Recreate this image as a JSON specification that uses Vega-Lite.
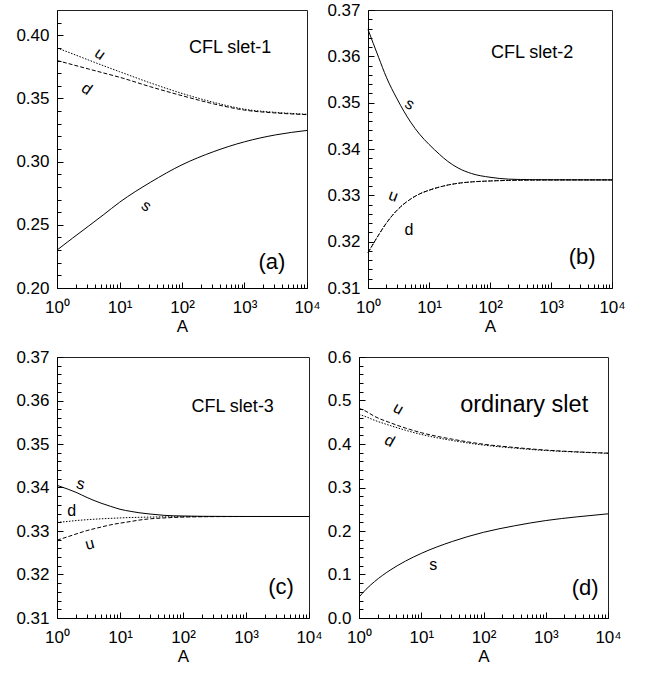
{
"$schema":"https://vega.github.io/schema/vega-lite/v6.json",
"background":"white",
"padding":{"left":15,"top":0,"right":0,"bottom":0},
"config":{"view":{"stroke":"#222","strokeWidth":1},"axis":{"grid":false,"labelFont":"Liberation Sans","labelFontSize":17,"labelColor":"black","tickColor":"black","domainColor":"black","titleFont":"Liberation Sans","titleFontSize":17,"titleFontWeight":"normal","titleColor":"black"},"text":{"font":"Liberation Sans","color":"black"}},
"datasets":{
"curves":[
{"p":"a","q":"s","A":1,"v":0.23},{"p":"a","q":"s","A":1.778,"v":0.2395},{"p":"a","q":"s","A":3.162,"v":0.2488},{"p":"a","q":"s","A":5.623,"v":0.2582},{"p":"a","q":"s","A":10,"v":0.2678},{"p":"a","q":"s","A":31.62,"v":0.2838},{"p":"a","q":"s","A":100,"v":0.2975},{"p":"a","q":"s","A":316.2,"v":0.3078},{"p":"a","q":"s","A":1000,"v":0.3157},{"p":"a","q":"s","A":3162,"v":0.3212},{"p":"a","q":"s","A":10000,"v":0.3247},
{"p":"a","q":"u","A":1,"v":0.39},{"p":"a","q":"u","A":1.778,"v":0.3853},{"p":"a","q":"u","A":3.162,"v":0.3805},{"p":"a","q":"u","A":5.623,"v":0.3758},{"p":"a","q":"u","A":10,"v":0.3712},{"p":"a","q":"u","A":31.62,"v":0.3622},{"p":"a","q":"u","A":100,"v":0.354},{"p":"a","q":"u","A":316.2,"v":0.347},{"p":"a","q":"u","A":1000,"v":0.3415},{"p":"a","q":"u","A":3162,"v":0.339},{"p":"a","q":"u","A":10000,"v":0.3375},
{"p":"a","q":"d","A":1,"v":0.38},{"p":"a","q":"d","A":1.778,"v":0.3767},{"p":"a","q":"d","A":3.162,"v":0.3734},{"p":"a","q":"d","A":5.623,"v":0.3701},{"p":"a","q":"d","A":10,"v":0.3668},{"p":"a","q":"d","A":31.62,"v":0.3592},{"p":"a","q":"d","A":100,"v":0.3522},{"p":"a","q":"d","A":316.2,"v":0.3458},{"p":"a","q":"d","A":1000,"v":0.3408},{"p":"a","q":"d","A":3162,"v":0.3385},{"p":"a","q":"d","A":10000,"v":0.3372},
{"p":"b","q":"s","A":1,"v":0.3658},{"p":"b","q":"s","A":1.5,"v":0.3597},{"p":"b","q":"s","A":2,"v":0.3555},{"p":"b","q":"s","A":3,"v":0.3508},{"p":"b","q":"s","A":5,"v":0.3458},{"p":"b","q":"s","A":7,"v":0.3432},{"p":"b","q":"s","A":10,"v":0.341},{"p":"b","q":"s","A":15,"v":0.3388},{"p":"b","q":"s","A":20,"v":0.3374},{"p":"b","q":"s","A":30,"v":0.3359},{"p":"b","q":"s","A":50,"v":0.3347},{"p":"b","q":"s","A":100,"v":0.3339},{"p":"b","q":"s","A":200,"v":0.3335},{"p":"b","q":"s","A":500,"v":0.33338},{"p":"b","q":"s","A":1000,"v":0.33335},{"p":"b","q":"s","A":10000,"v":0.33333},
{"p":"b","q":"u","A":1,"v":0.3176},{"p":"b","q":"u","A":1.5,"v":0.3215},{"p":"b","q":"u","A":2,"v":0.324},{"p":"b","q":"u","A":3,"v":0.3268},{"p":"b","q":"u","A":5,"v":0.3292},{"p":"b","q":"u","A":7,"v":0.3303},{"p":"b","q":"u","A":10,"v":0.3311},{"p":"b","q":"u","A":15,"v":0.3318},{"p":"b","q":"u","A":20,"v":0.3322},{"p":"b","q":"u","A":30,"v":0.3326},{"p":"b","q":"u","A":50,"v":0.3329},{"p":"b","q":"u","A":100,"v":0.3331},{"p":"b","q":"u","A":200,"v":0.33322},{"p":"b","q":"u","A":500,"v":0.3333},{"p":"b","q":"u","A":1000,"v":0.33332},{"p":"b","q":"u","A":10000,"v":0.33333},
{"p":"b","q":"d","A":1,"v":0.3176},{"p":"b","q":"d","A":1.5,"v":0.3215},{"p":"b","q":"d","A":2,"v":0.324},{"p":"b","q":"d","A":3,"v":0.3268},{"p":"b","q":"d","A":5,"v":0.3292},{"p":"b","q":"d","A":7,"v":0.3303},{"p":"b","q":"d","A":10,"v":0.3311},{"p":"b","q":"d","A":15,"v":0.3318},{"p":"b","q":"d","A":20,"v":0.3322},{"p":"b","q":"d","A":30,"v":0.3326},{"p":"b","q":"d","A":50,"v":0.3329},{"p":"b","q":"d","A":100,"v":0.3331},{"p":"b","q":"d","A":200,"v":0.33322},{"p":"b","q":"d","A":500,"v":0.3333},{"p":"b","q":"d","A":1000,"v":0.33332},{"p":"b","q":"d","A":10000,"v":0.33333},
{"p":"c","q":"s","A":1,"v":0.3405},{"p":"c","q":"s","A":1.5,"v":0.3396},{"p":"c","q":"s","A":2,"v":0.3389},{"p":"c","q":"s","A":3,"v":0.3377},{"p":"c","q":"s","A":5,"v":0.3364},{"p":"c","q":"s","A":7,"v":0.3357},{"p":"c","q":"s","A":10,"v":0.335},{"p":"c","q":"s","A":15,"v":0.3345},{"p":"c","q":"s","A":20,"v":0.3342},{"p":"c","q":"s","A":30,"v":0.3339},{"p":"c","q":"s","A":50,"v":0.3336},{"p":"c","q":"s","A":100,"v":0.33345},{"p":"c","q":"s","A":200,"v":0.33338},{"p":"c","q":"s","A":500,"v":0.33335},{"p":"c","q":"s","A":1000,"v":0.33334},{"p":"c","q":"s","A":10000,"v":0.33333},
{"p":"c","q":"d","A":1,"v":0.332},{"p":"c","q":"d","A":1.5,"v":0.3322},{"p":"c","q":"d","A":2,"v":0.3324},{"p":"c","q":"d","A":3,"v":0.3326},{"p":"c","q":"d","A":5,"v":0.3328},{"p":"c","q":"d","A":7,"v":0.3329},{"p":"c","q":"d","A":10,"v":0.333},{"p":"c","q":"d","A":15,"v":0.3331},{"p":"c","q":"d","A":20,"v":0.33315},{"p":"c","q":"d","A":30,"v":0.3332},{"p":"c","q":"d","A":50,"v":0.33325},{"p":"c","q":"d","A":100,"v":0.3333},{"p":"c","q":"d","A":200,"v":0.33332},{"p":"c","q":"d","A":500,"v":0.33333},{"p":"c","q":"d","A":1000,"v":0.33333},{"p":"c","q":"d","A":10000,"v":0.33333},
{"p":"c","q":"u","A":1,"v":0.3279},{"p":"c","q":"u","A":1.5,"v":0.3287},{"p":"c","q":"u","A":2,"v":0.3293},{"p":"c","q":"u","A":3,"v":0.3301},{"p":"c","q":"u","A":5,"v":0.3309},{"p":"c","q":"u","A":7,"v":0.3314},{"p":"c","q":"u","A":10,"v":0.3318},{"p":"c","q":"u","A":15,"v":0.3322},{"p":"c","q":"u","A":20,"v":0.3325},{"p":"c","q":"u","A":30,"v":0.3328},{"p":"c","q":"u","A":50,"v":0.333},{"p":"c","q":"u","A":100,"v":0.3332},{"p":"c","q":"u","A":200,"v":0.33328},{"p":"c","q":"u","A":500,"v":0.33332},{"p":"c","q":"u","A":1000,"v":0.33333},{"p":"c","q":"u","A":10000,"v":0.33333},
{"p":"d","q":"s","A":1,"v":0.048},{"p":"d","q":"s","A":1.3,"v":0.066},{"p":"d","q":"s","A":1.778,"v":0.0837},{"p":"d","q":"s","A":3.162,"v":0.11},{"p":"d","q":"s","A":5.623,"v":0.131},{"p":"d","q":"s","A":10,"v":0.1485},{"p":"d","q":"s","A":31.62,"v":0.176},{"p":"d","q":"s","A":100,"v":0.197},{"p":"d","q":"s","A":316.2,"v":0.212},{"p":"d","q":"s","A":1000,"v":0.224},{"p":"d","q":"s","A":3162,"v":0.2325},{"p":"d","q":"s","A":10000,"v":0.2395},
{"p":"d","q":"u","A":1,"v":0.482},{"p":"d","q":"u","A":1.3,"v":0.475},{"p":"d","q":"u","A":1.778,"v":0.4635},{"p":"d","q":"u","A":3.162,"v":0.449},{"p":"d","q":"u","A":5.623,"v":0.4365},{"p":"d","q":"u","A":10,"v":0.426},{"p":"d","q":"u","A":31.62,"v":0.411},{"p":"d","q":"u","A":100,"v":0.3995},{"p":"d","q":"u","A":316.2,"v":0.392},{"p":"d","q":"u","A":1000,"v":0.386},{"p":"d","q":"u","A":3162,"v":0.382},{"p":"d","q":"u","A":10000,"v":0.379},
{"p":"d","q":"d","A":1,"v":0.468},{"p":"d","q":"d","A":1.3,"v":0.4625},{"p":"d","q":"d","A":1.778,"v":0.4545},{"p":"d","q":"d","A":3.162,"v":0.4425},{"p":"d","q":"d","A":5.623,"v":0.4315},{"p":"d","q":"d","A":10,"v":0.422},{"p":"d","q":"d","A":31.62,"v":0.408},{"p":"d","q":"d","A":100,"v":0.3975},{"p":"d","q":"d","A":316.2,"v":0.3905},{"p":"d","q":"d","A":1000,"v":0.385},{"p":"d","q":"d","A":3162,"v":0.3815},{"p":"d","q":"d","A":10000,"v":0.3785}
],
"labels":[
{"p":"a","t":"CFL slet-1","A":590,"v":0.3896},{"p":"a","t":"(a)","A":2750,"v":0.2208},{"p":"a","t":"u","A":4.9,"v":0.3852},{"p":"a","t":"d","A":3.0,"v":0.3576},{"p":"a","t":"s","A":27,"v":0.265},
{"p":"b","t":"CFL slet-2","A":490,"v":0.3607},{"p":"b","t":"(b)","A":3240,"v":0.3166},{"p":"b","t":"s","A":4.85,"v":0.3497},{"p":"b","t":"u","A":2.6,"v":0.3299},{"p":"b","t":"d","A":4.7,"v":0.3226},
{"p":"c","t":"CFL slet-3","A":615,"v":0.3586},{"p":"c","t":"(c)","A":3600,"v":0.3172},{"p":"c","t":"s","A":2.37,"v":0.3408},{"p":"c","t":"d","A":1.71,"v":0.3346},{"p":"c","t":"u","A":3.3,"v":0.327},
{"p":"d","t":"ordinary slet","A":450,"v":0.4905},{"p":"d","t":"(d)","A":4300,"v":0.07},{"p":"d","t":"u","A":4.3,"v":0.481},{"p":"d","t":"d","A":3.1,"v":0.407},{"p":"d","t":"s","A":15.6,"v":0.1225}
]},
"resolve":{"scale":{"x":"independent","y":"independent"}},
"spacing":12,
"vconcat":[
{"hconcat":[
{"width":250,"height":278,"resolve":{"axis":{"x":"independent","y":"independent"}},
"layer":[
{"data":{"name":"curves"},"transform":[{"filter":"datum.p == 'a' && datum.q == 's'"}],"mark":{"type":"line","interpolate":"monotone","color":"black","strokeWidth":1},
"encoding":{"x":{"field":"A","type":"quantitative","scale":{"type":"log","domain":[1,10000]},"axis":{"orient":"bottom","values":[1,10,100,1000,10000],"labelExpr":"datum.value < 5 ? '10⁰' : datum.value < 50 ? '10¹' : datum.value < 500 ? '10²' : datum.value < 5000 ? '10³' : '10⁴'","ticks":false,"labelPadding":11,"labelFlush":false,"labelOverlap":false,"title":"A","titlePadding":3}},
"y":{"field":"v","type":"quantitative","scale":{"domain":[0.2,0.42],"nice":false,"zero":false},"axis":{"orient":"left","values":[0.2,0.25,0.3,0.35,0.4],"format":".2f","ticks":false,"labelPadding":8,"title":null}}}},
{"data":{"name":"curves"},"transform":[{"filter":"datum.p == 'a' && datum.q == 'u'"}],"mark":{"type":"line","interpolate":"monotone","color":"black","strokeWidth":1,"strokeDash":[1.5,1.5]},
"encoding":{"x":{"field":"A","type":"quantitative","scale":{"type":"log","domain":[1,10000]},"axis":{"orient":"bottom","values":[1,10,100,1000,10000],"labels":false,"domain":false,"ticks":true,"tickSize":6,"offset":-6,"title":null}},
"y":{"field":"v","type":"quantitative","scale":{"domain":[0.2,0.42],"nice":false,"zero":false},"axis":{"orient":"left","values":[0.2,0.25,0.3,0.35,0.4],"labels":false,"domain":false,"ticks":true,"tickSize":6,"offset":-6,"title":null}}}},
{"data":{"name":"curves"},"transform":[{"filter":"datum.p == 'a' && datum.q == 'd'"}],"mark":{"type":"line","interpolate":"monotone","color":"black","strokeWidth":1,"strokeDash":[4,2]},
"encoding":{"x":{"field":"A","type":"quantitative","scale":{"type":"log","domain":[1,10000]},"axis":{"orient":"bottom","values":[2,3,4,5,6,7,8,9,20,30,40,50,60,70,80,90,200,300,400,500,600,700,800,900,2000,3000,4000,5000,6000,7000,8000,9000],"labels":false,"domain":false,"ticks":true,"tickSize":4,"offset":-4,"title":null}},
"y":{"field":"v","type":"quantitative","scale":{"domain":[0.2,0.42],"nice":false,"zero":false},"axis":{"orient":"left","values":[0.21,0.22,0.23,0.24,0.26,0.27,0.28,0.29,0.31,0.32,0.33,0.34,0.36,0.37,0.38,0.39,0.41],"labels":false,"domain":false,"ticks":true,"tickSize":4,"offset":-4,"title":null}}}},
{"data":{"name":"labels"},"transform":[{"filter":"datum.p == 'a' && datum.t == 'CFL slet-1'"}],"mark":{"type":"text","fontSize":18},
"encoding":{"x":{"field":"A","type":"quantitative","scale":{"type":"log","domain":[1,10000]},"axis":null},"y":{"field":"v","type":"quantitative","scale":{"domain":[0.2,0.42],"nice":false,"zero":false},"axis":null},"text":{"field":"t"}}},
{"data":{"name":"labels"},"transform":[{"filter":"datum.p == 'a' && datum.t == '(a)'"}],"mark":{"type":"text","fontSize":22},
"encoding":{"x":{"field":"A","type":"quantitative","scale":{"type":"log","domain":[1,10000]},"axis":null},"y":{"field":"v","type":"quantitative","scale":{"domain":[0.2,0.42],"nice":false,"zero":false},"axis":null},"text":{"field":"t"}}},
{"data":{"name":"labels"},"transform":[{"filter":"datum.p == 'a' && length(datum.t) == 1"}],"mark":{"type":"text","fontSize":16,"angle":35},
"encoding":{"x":{"field":"A","type":"quantitative","scale":{"type":"log","domain":[1,10000]},"axis":null},"y":{"field":"v","type":"quantitative","scale":{"domain":[0.2,0.42],"nice":false,"zero":false},"axis":null},"text":{"field":"t"}}}
]},
{"width":244,"height":278,"resolve":{"axis":{"x":"independent","y":"independent"}},
"layer":[
{"data":{"name":"curves"},"transform":[{"filter":"datum.p == 'b' && datum.q == 's'"}],"mark":{"type":"line","interpolate":"monotone","color":"black","strokeWidth":1},
"encoding":{"x":{"field":"A","type":"quantitative","scale":{"type":"log","domain":[1,10000]},"axis":{"orient":"bottom","values":[1,10,100,1000,10000],"labelExpr":"datum.value < 5 ? '10⁰' : datum.value < 50 ? '10¹' : datum.value < 500 ? '10²' : datum.value < 5000 ? '10³' : '10⁴'","ticks":false,"labelPadding":11,"labelFlush":false,"labelOverlap":false,"title":"A","titlePadding":3}},
"y":{"field":"v","type":"quantitative","scale":{"domain":[0.31,0.37],"nice":false,"zero":false},"axis":{"orient":"left","values":[0.31,0.32,0.33,0.34,0.35,0.36,0.37],"format":".2f","ticks":false,"labelPadding":8,"title":null}}}},
{"data":{"name":"curves"},"transform":[{"filter":"datum.p == 'b' && datum.q == 'u'"}],"mark":{"type":"line","interpolate":"monotone","color":"black","strokeWidth":1,"strokeDash":[1.5,1.5]},
"encoding":{"x":{"field":"A","type":"quantitative","scale":{"type":"log","domain":[1,10000]},"axis":{"orient":"bottom","values":[1,10,100,1000,10000],"labels":false,"domain":false,"ticks":true,"tickSize":6,"offset":-6,"title":null}},
"y":{"field":"v","type":"quantitative","scale":{"domain":[0.31,0.37],"nice":false,"zero":false},"axis":{"orient":"left","values":[0.31,0.32,0.33,0.34,0.35,0.36,0.37],"labels":false,"domain":false,"ticks":true,"tickSize":6,"offset":-6,"title":null}}}},
{"data":{"name":"curves"},"transform":[{"filter":"datum.p == 'b' && datum.q == 'd'"}],"mark":{"type":"line","interpolate":"monotone","color":"black","strokeWidth":1,"strokeDash":[4,2]},
"encoding":{"x":{"field":"A","type":"quantitative","scale":{"type":"log","domain":[1,10000]},"axis":{"orient":"bottom","values":[2,3,4,5,6,7,8,9,20,30,40,50,60,70,80,90,200,300,400,500,600,700,800,900,2000,3000,4000,5000,6000,7000,8000,9000],"labels":false,"domain":false,"ticks":true,"tickSize":4,"offset":-4,"title":null}},
"y":{"field":"v","type":"quantitative","scale":{"domain":[0.31,0.37],"nice":false,"zero":false},"axis":{"orient":"left","values":[0.312,0.314,0.316,0.318,0.322,0.324,0.326,0.328,0.332,0.334,0.336,0.338,0.342,0.344,0.346,0.348,0.352,0.354,0.356,0.358,0.362,0.364,0.366,0.368],"labels":false,"domain":false,"ticks":true,"tickSize":4,"offset":-4,"title":null}}}},
{"data":{"name":"labels"},"transform":[{"filter":"datum.p == 'b' && datum.t == 'CFL slet-2'"}],"mark":{"type":"text","fontSize":18},
"encoding":{"x":{"field":"A","type":"quantitative","scale":{"type":"log","domain":[1,10000]},"axis":null},"y":{"field":"v","type":"quantitative","scale":{"domain":[0.31,0.37],"nice":false,"zero":false},"axis":null},"text":{"field":"t"}}},
{"data":{"name":"labels"},"transform":[{"filter":"datum.p == 'b' && datum.t == '(b)'"}],"mark":{"type":"text","fontSize":22},
"encoding":{"x":{"field":"A","type":"quantitative","scale":{"type":"log","domain":[1,10000]},"axis":null},"y":{"field":"v","type":"quantitative","scale":{"domain":[0.31,0.37],"nice":false,"zero":false},"axis":null},"text":{"field":"t"}}},
{"data":{"name":"labels"},"transform":[{"filter":"datum.p == 'b' && datum.t == 's'"}],"mark":{"type":"text","fontSize":16,"angle":30},
"encoding":{"x":{"field":"A","type":"quantitative","scale":{"type":"log","domain":[1,10000]},"axis":null},"y":{"field":"v","type":"quantitative","scale":{"domain":[0.31,0.37],"nice":false,"zero":false},"axis":null},"text":{"field":"t"}}},
{"data":{"name":"labels"},"transform":[{"filter":"datum.p == 'b' && datum.t == 'u'"}],"mark":{"type":"text","fontSize":16,"angle":20},
"encoding":{"x":{"field":"A","type":"quantitative","scale":{"type":"log","domain":[1,10000]},"axis":null},"y":{"field":"v","type":"quantitative","scale":{"domain":[0.31,0.37],"nice":false,"zero":false},"axis":null},"text":{"field":"t"}}},
{"data":{"name":"labels"},"transform":[{"filter":"datum.p == 'b' && datum.t == 'd'"}],"mark":{"type":"text","fontSize":16},
"encoding":{"x":{"field":"A","type":"quantitative","scale":{"type":"log","domain":[1,10000]},"axis":null},"y":{"field":"v","type":"quantitative","scale":{"domain":[0.31,0.37],"nice":false,"zero":false},"axis":null},"text":{"field":"t"}}}
]}
],"spacing":5,"resolve":{"scale":{"x":"independent","y":"independent"}}},
{"hconcat":[
{"width":252,"height":261,"resolve":{"axis":{"x":"independent","y":"independent"}},
"layer":[
{"data":{"name":"curves"},"transform":[{"filter":"datum.p == 'c' && datum.q == 's'"}],"mark":{"type":"line","interpolate":"monotone","color":"black","strokeWidth":1},
"encoding":{"x":{"field":"A","type":"quantitative","scale":{"type":"log","domain":[1,10000]},"axis":{"orient":"bottom","values":[1,10,100,1000,10000],"labelExpr":"datum.value < 5 ? '10⁰' : datum.value < 50 ? '10¹' : datum.value < 500 ? '10²' : datum.value < 5000 ? '10³' : '10⁴'","ticks":false,"labelPadding":11,"labelFlush":false,"labelOverlap":false,"title":"A","titlePadding":3}},
"y":{"field":"v","type":"quantitative","scale":{"domain":[0.31,0.37],"nice":false,"zero":false},"axis":{"orient":"left","values":[0.31,0.32,0.33,0.34,0.35,0.36,0.37],"format":".2f","ticks":false,"labelPadding":8,"title":null}}}},
{"data":{"name":"curves"},"transform":[{"filter":"datum.p == 'c' && datum.q == 'd'"}],"mark":{"type":"line","interpolate":"monotone","color":"black","strokeWidth":1,"strokeDash":[1.5,1.5]},
"encoding":{"x":{"field":"A","type":"quantitative","scale":{"type":"log","domain":[1,10000]},"axis":{"orient":"bottom","values":[1,10,100,1000,10000],"labels":false,"domain":false,"ticks":true,"tickSize":6,"offset":-6,"title":null}},
"y":{"field":"v","type":"quantitative","scale":{"domain":[0.31,0.37],"nice":false,"zero":false},"axis":{"orient":"left","values":[0.31,0.32,0.33,0.34,0.35,0.36,0.37],"labels":false,"domain":false,"ticks":true,"tickSize":6,"offset":-6,"title":null}}}},
{"data":{"name":"curves"},"transform":[{"filter":"datum.p == 'c' && datum.q == 'u'"}],"mark":{"type":"line","interpolate":"monotone","color":"black","strokeWidth":1,"strokeDash":[4,2]},
"encoding":{"x":{"field":"A","type":"quantitative","scale":{"type":"log","domain":[1,10000]},"axis":{"orient":"bottom","values":[2,3,4,5,6,7,8,9,20,30,40,50,60,70,80,90,200,300,400,500,600,700,800,900,2000,3000,4000,5000,6000,7000,8000,9000],"labels":false,"domain":false,"ticks":true,"tickSize":4,"offset":-4,"title":null}},
"y":{"field":"v","type":"quantitative","scale":{"domain":[0.31,0.37],"nice":false,"zero":false},"axis":{"orient":"left","values":[0.312,0.314,0.316,0.318,0.322,0.324,0.326,0.328,0.332,0.334,0.336,0.338,0.342,0.344,0.346,0.348,0.352,0.354,0.356,0.358,0.362,0.364,0.366,0.368],"labels":false,"domain":false,"ticks":true,"tickSize":4,"offset":-4,"title":null}}}},
{"data":{"name":"labels"},"transform":[{"filter":"datum.p == 'c' && datum.t == 'CFL slet-3'"}],"mark":{"type":"text","fontSize":18},
"encoding":{"x":{"field":"A","type":"quantitative","scale":{"type":"log","domain":[1,10000]},"axis":null},"y":{"field":"v","type":"quantitative","scale":{"domain":[0.31,0.37],"nice":false,"zero":false},"axis":null},"text":{"field":"t"}}},
{"data":{"name":"labels"},"transform":[{"filter":"datum.p == 'c' && datum.t == '(c)'"}],"mark":{"type":"text","fontSize":22},
"encoding":{"x":{"field":"A","type":"quantitative","scale":{"type":"log","domain":[1,10000]},"axis":null},"y":{"field":"v","type":"quantitative","scale":{"domain":[0.31,0.37],"nice":false,"zero":false},"axis":null},"text":{"field":"t"}}},
{"data":{"name":"labels"},"transform":[{"filter":"datum.p == 'c' && datum.t == 's'"}],"mark":{"type":"text","fontSize":16,"angle":15},
"encoding":{"x":{"field":"A","type":"quantitative","scale":{"type":"log","domain":[1,10000]},"axis":null},"y":{"field":"v","type":"quantitative","scale":{"domain":[0.31,0.37],"nice":false,"zero":false},"axis":null},"text":{"field":"t"}}},
{"data":{"name":"labels"},"transform":[{"filter":"datum.p == 'c' && datum.t == 'u'"}],"mark":{"type":"text","fontSize":16,"angle":-15},
"encoding":{"x":{"field":"A","type":"quantitative","scale":{"type":"log","domain":[1,10000]},"axis":null},"y":{"field":"v","type":"quantitative","scale":{"domain":[0.31,0.37],"nice":false,"zero":false},"axis":null},"text":{"field":"t"}}},
{"data":{"name":"labels"},"transform":[{"filter":"datum.p == 'c' && datum.t == 'd'"}],"mark":{"type":"text","fontSize":16},
"encoding":{"x":{"field":"A","type":"quantitative","scale":{"type":"log","domain":[1,10000]},"axis":null},"y":{"field":"v","type":"quantitative","scale":{"domain":[0.31,0.37],"nice":false,"zero":false},"axis":null},"text":{"field":"t"}}}
]},
{"width":249,"height":261,"resolve":{"axis":{"x":"independent","y":"independent"}},
"layer":[
{"data":{"name":"curves"},"transform":[{"filter":"datum.p == 'd' && datum.q == 's'"}],"mark":{"type":"line","interpolate":"monotone","color":"black","strokeWidth":1},
"encoding":{"x":{"field":"A","type":"quantitative","scale":{"type":"log","domain":[1,10000]},"axis":{"orient":"bottom","values":[1,10,100,1000,10000],"labelExpr":"datum.value < 5 ? '10⁰' : datum.value < 50 ? '10¹' : datum.value < 500 ? '10²' : datum.value < 5000 ? '10³' : '10⁴'","ticks":false,"labelPadding":11,"labelFlush":false,"labelOverlap":false,"title":"A","titlePadding":3}},
"y":{"field":"v","type":"quantitative","scale":{"domain":[0,0.6],"nice":false,"zero":false},"axis":{"orient":"left","values":[0,0.1,0.2,0.3,0.4,0.5,0.6],"format":".1f","ticks":false,"labelPadding":8,"title":null}}}},
{"data":{"name":"curves"},"transform":[{"filter":"datum.p == 'd' && datum.q == 'd'"}],"mark":{"type":"line","interpolate":"monotone","color":"black","strokeWidth":1,"strokeDash":[1.5,1.5]},
"encoding":{"x":{"field":"A","type":"quantitative","scale":{"type":"log","domain":[1,10000]},"axis":{"orient":"bottom","values":[1,10,100,1000,10000],"labels":false,"domain":false,"ticks":true,"tickSize":6,"offset":-6,"title":null}},
"y":{"field":"v","type":"quantitative","scale":{"domain":[0,0.6],"nice":false,"zero":false},"axis":{"orient":"left","values":[0,0.1,0.2,0.3,0.4,0.5,0.6],"labels":false,"domain":false,"ticks":true,"tickSize":6,"offset":-6,"title":null}}}},
{"data":{"name":"curves"},"transform":[{"filter":"datum.p == 'd' && datum.q == 'u'"}],"mark":{"type":"line","interpolate":"monotone","color":"black","strokeWidth":1,"strokeDash":[4,2]},
"encoding":{"x":{"field":"A","type":"quantitative","scale":{"type":"log","domain":[1,10000]},"axis":{"orient":"bottom","values":[2,3,4,5,6,7,8,9,20,30,40,50,60,70,80,90,200,300,400,500,600,700,800,900,2000,3000,4000,5000,6000,7000,8000,9000],"labels":false,"domain":false,"ticks":true,"tickSize":4,"offset":-4,"title":null}},
"y":{"field":"v","type":"quantitative","scale":{"domain":[0,0.6],"nice":false,"zero":false},"axis":{"orient":"left","values":[0.02,0.04,0.06,0.08,0.12,0.14,0.16,0.18,0.22,0.24,0.26,0.28,0.32,0.34,0.36,0.38,0.42,0.44,0.46,0.48,0.52,0.54,0.56,0.58],"labels":false,"domain":false,"ticks":true,"tickSize":4,"offset":-4,"title":null}}}},
{"data":{"name":"labels"},"transform":[{"filter":"datum.p == 'd' && datum.t == 'ordinary slet'"}],"mark":{"type":"text","fontSize":23.5},
"encoding":{"x":{"field":"A","type":"quantitative","scale":{"type":"log","domain":[1,10000]},"axis":null},"y":{"field":"v","type":"quantitative","scale":{"domain":[0,0.6],"nice":false,"zero":false},"axis":null},"text":{"field":"t"}}},
{"data":{"name":"labels"},"transform":[{"filter":"datum.p == 'd' && datum.t == '(d)'"}],"mark":{"type":"text","fontSize":22},
"encoding":{"x":{"field":"A","type":"quantitative","scale":{"type":"log","domain":[1,10000]},"axis":null},"y":{"field":"v","type":"quantitative","scale":{"domain":[0,0.6],"nice":false,"zero":false},"axis":null},"text":{"field":"t"}}},
{"data":{"name":"labels"},"transform":[{"filter":"datum.p == 'd' && (datum.t == 'u' || datum.t == 'd')"}],"mark":{"type":"text","fontSize":16,"angle":30},
"encoding":{"x":{"field":"A","type":"quantitative","scale":{"type":"log","domain":[1,10000]},"axis":null},"y":{"field":"v","type":"quantitative","scale":{"domain":[0,0.6],"nice":false,"zero":false},"axis":null},"text":{"field":"t"}}},
{"data":{"name":"labels"},"transform":[{"filter":"datum.p == 'd' && datum.t == 's'"}],"mark":{"type":"text","fontSize":16},
"encoding":{"x":{"field":"A","type":"quantitative","scale":{"type":"log","domain":[1,10000]},"axis":null},"y":{"field":"v","type":"quantitative","scale":{"domain":[0,0.6],"nice":false,"zero":false},"axis":null},"text":{"field":"t"}}}
]}
],"spacing":3,"resolve":{"scale":{"x":"independent","y":"independent"}}}
]
}
